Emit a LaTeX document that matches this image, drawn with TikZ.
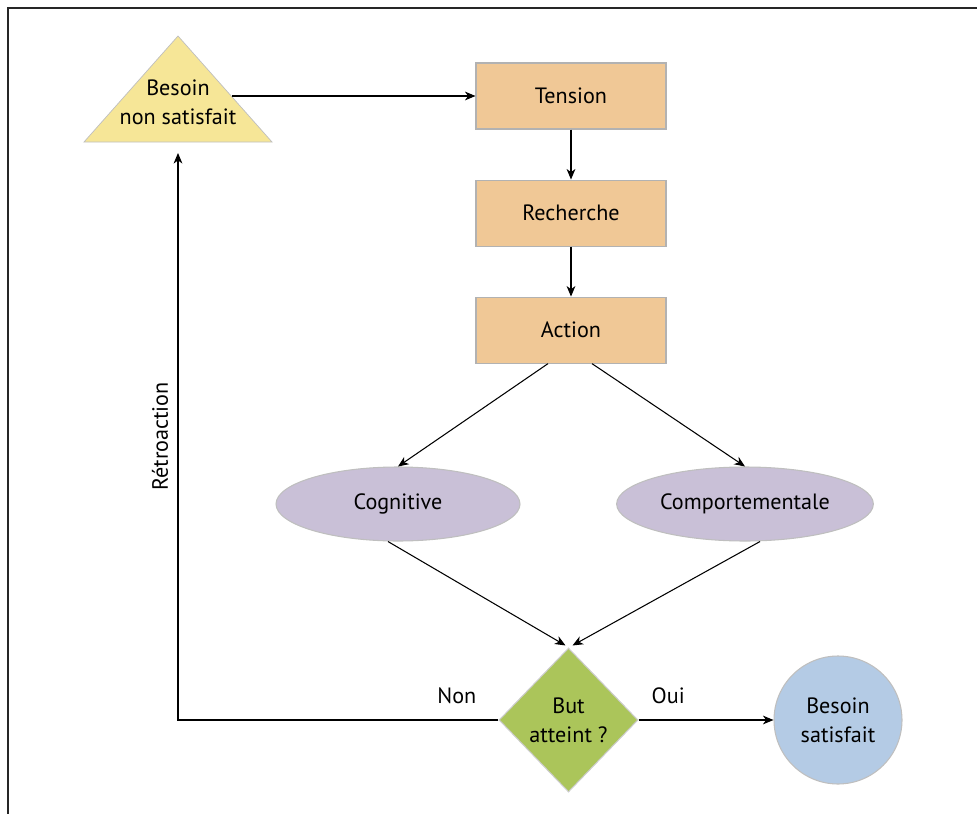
\documentclass[tikz,border=0pt]{standalone}
\usepackage{fontspec}
\setsansfont{PT Sans}
\usetikzlibrary{shapes,arrows.meta,positioning}
\definecolor{peach}{HTML}{F0C896}
\definecolor{sand}{HTML}{F6E697}
\definecolor{lavender}{HTML}{C9C0D7}
\definecolor{leaf}{HTML}{ABC55A}
\definecolor{sky}{HTML}{B4CBE5}
\tikzstyle{rec} = [rectangle, minimum width=3.8cm, minimum height=1.32cm, text centered, fill=peach, draw=black!30]
\tikzstyle{ell} = [ellipse, minimum width=4.88cm, minimum height=1.48cm, fill=lavender, draw=black!25]
\tikzstyle{dec} = [diamond, minimum width=2.78cm, minimum height=2.88cm, inner sep=0pt, align=center, fill=leaf, draw=black!20]
\tikzstyle{circ} = [circle, minimum size=2.56cm, inner sep=0pt, align=center, fill=sky, draw=black!25]

\begin{document}
\begin{tikzpicture}[->,>={Stealth[length=6pt,width=5pt,inset=1.8pt]},semithick,node distance=1cm,
  font=\sffamily\fontsize{12.6}{16.5}\selectfont]
  \useasboundingbox (0,0) rectangle (19.54,-16.28);
  \draw[-, line width=1.3pt, black!85] (0.16,-16.28) -- (0.16,-0.16) -- (19.54,-0.16);

  % triangle drawn by hand, text node on top
  \filldraw[-, fill=sand, draw=black!25, thin] (3.56,-0.72) -- (5.44,-2.84) -- (1.68,-2.84) -- cycle;
  \node (besoin) at (3.56,-2.04) [align=center] {Besoin\\non satisfait};
  \coordinate (triR) at (4.64,-1.92);
  \coordinate (triB) at (3.56,-3.06);

  \node (tension) [rec] at (11.42,-1.92) {Tension};
  \node (recherche) [rec, below=of tension] {Recherche};
  \node (action) [rec, below=of recherche] {Action};
  \node (cog) [ell] at (7.96,-10.08) {Cognitive};
  \node (comp) [ell] at (14.9,-10.08) {Comportementale};
  \node (but) [dec] at (11.37,-14.4) {But\\atteint ?};
  \node (ok) [circ] at (16.76,-14.4) {Besoin\\satisfait};

  \draw (triR) -- (tension);
  \draw (tension) -- (recherche);
  \draw (recherche) -- (action);
  \draw ([xshift=-0.46cm]action.south) -- (cog.north);
  \draw ([xshift=0.42cm]action.south) -- (comp.north);
  \draw ([xshift=-0.2cm]cog.south) -- ([xshift=-0.06cm,yshift=0.04cm]but.north);
  \draw ([xshift=0.3cm]comp.south) -- ([xshift=0.08cm,yshift=0.04cm]but.north);
  \draw (but) -- node[pos=0.22, yshift=0.48cm] {Oui} (ok);
  \draw (but.west) -- node[pos=0.13, yshift=0.48cm] {Non} (but.west -| triB)
    -- node[midway, above=2pt, sloped] {Rétroaction} (triB);
\end{tikzpicture}
\end{document}
